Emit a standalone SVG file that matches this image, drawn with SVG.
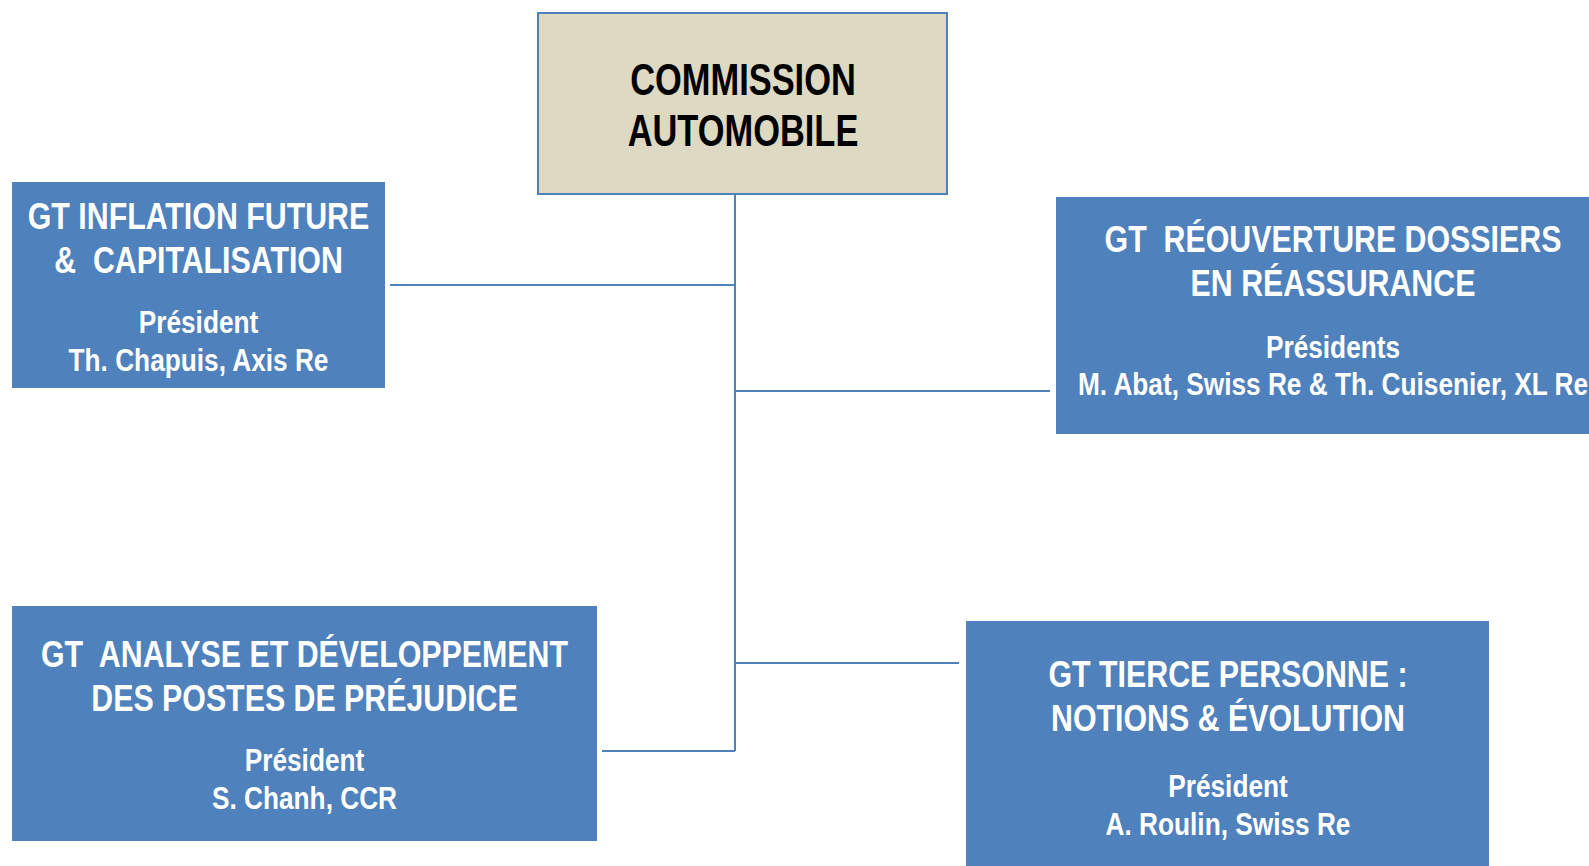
<svg xmlns="http://www.w3.org/2000/svg" width="1589" height="866" viewBox="0 0 1589 866">
<style>
.box{fill:#4f81bd;}
.top{fill:#ddd9c3;stroke:#4f81bd;stroke-width:2;}
.t{font-family:"Liberation Sans Narrow","Arial Narrow","Liberation Sans",Arial,sans-serif;font-weight:bold;text-anchor:middle;}
.h{font-size:37px;fill:#ffffff;}
.p{font-size:32px;fill:#ffffff;}
.k{font-size:45px;fill:#000000;}
.c{fill:none;stroke:#4f81bd;stroke-width:2;}
</style>
<rect width="1589" height="866" fill="#ffffff"/>
<g id="connectors">
<path class="c" d="M735 195 V751 M390 285 H735 M736 391 H1050 M736 663 H959 M602 751 H735"/>
</g>
<g id="commission">
<rect class="top" x="538" y="13" width="409" height="181"/>
<g transform="translate(743 0) scale(0.765 1)">
<text class="t k" x="0" y="95">COMMISSION</text>
<text class="t k" x="0" y="146">AUTOMOBILE</text>
</g>
</g>
<g id="gt-inflation">
<rect class="box" x="12" y="182" width="373" height="206"/>
<g transform="translate(198.5 0) scale(0.82 1)">
<text class="t h" x="0" y="229">GT INFLATION FUTURE</text>
<text class="t h" x="0" y="273" xml:space="preserve">&amp;  CAPITALISATION</text>
<text class="t p" x="0" y="333">Président</text>
<text class="t p" x="0" y="371">Th. Chapuis, Axis Re</text>
</g>
</g>
<g id="gt-reouverture">
<rect class="box" x="1056" y="197" width="560" height="237"/>
<g transform="translate(1333 0) scale(0.82 1)">
<text class="t h" x="0" y="252" xml:space="preserve">GT  RÉOUVERTURE DOSSIERS</text>
<text class="t h" x="0" y="296">EN RÉASSURANCE</text>
<text class="t p" x="0" y="358">Présidents</text>
<text class="t p" x="0" y="395">M. Abat, Swiss Re &amp; Th. Cuisenier, XL Re</text>
</g>
</g>
<g id="gt-analyse">
<rect class="box" x="12" y="606" width="585" height="235"/>
<g transform="translate(304.5 0) scale(0.82 1)">
<text class="t h" x="0" y="667" xml:space="preserve">GT  ANALYSE ET DÉVELOPPEMENT</text>
<text class="t h" x="0" y="711">DES POSTES DE PRÉJUDICE</text>
<text class="t p" x="0" y="771">Président</text>
<text class="t p" x="0" y="809">S. Chanh, CCR</text>
</g>
</g>
<g id="gt-tierce">
<rect class="box" x="966" y="621" width="523" height="260"/>
<g transform="translate(1228 0) scale(0.82 1)">
<text class="t h" x="0" y="687">GT TIERCE PERSONNE :</text>
<text class="t h" x="0" y="731">NOTIONS &amp; ÉVOLUTION</text>
<text class="t p" x="0" y="797">Président</text>
<text class="t p" x="0" y="835">A. Roulin, Swiss Re</text>
</g>
</g>
</svg>
